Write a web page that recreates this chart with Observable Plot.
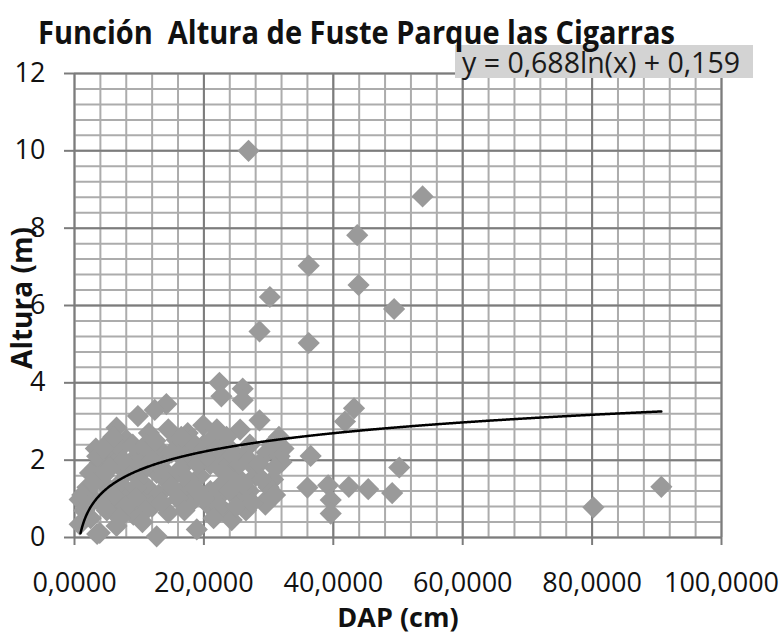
<!DOCTYPE html>
<html><head><meta charset="utf-8">
<script src="https://cdn.jsdelivr.net/npm/d3@7"></script>
<script src="https://cdn.jsdelivr.net/npm/@observablehq/plot@0.6"></script>
<style>
body{margin:0;background:#fff;}
#wrap{position:relative;width:784px;height:642px;font-family:"Open Sans",sans-serif;overflow:hidden;}
#chart{position:absolute;left:0;top:0;}
#eq{position:absolute;left:455px;top:45px;width:298px;height:33px;background:#d3d3d3;font-size:28.5px;line-height:35px;padding-left:7px;box-sizing:border-box;white-space:pre;color:#1a1a1a;}
#title{position:absolute;left:38px;top:10px;font-weight:700;font-size:32px;line-height:1.362;white-space:pre;color:#111;transform:scaleX(0.906);transform-origin:0 0;}
#ylab{position:absolute;left:21px;top:298px;font-weight:700;font-size:28px;line-height:1;white-space:pre;color:#111;transform:translate(-50%,-50%) rotate(-90deg);}
</style></head><body>
<div id="wrap"><div id="chart"></div><div id="eq">y = 0,688ln(x) + 0,159</div><div id="title">Función  Altura de Fuste Parque las Cigarras</div><div id="ylab">Altura (m)</div></div>
<script>
// DAP (cm) and Altura (m) of each tree
const dap = [
  26.9, 53.8, 43.7, 36.2, 43.9, 30.2, 49.4, 28.6, 36.2, 22.4, 22.7, 26.0, 26.0, 43.2, 41.8,
  50.2, 36.5, 36.0, 39.2, 42.4, 45.4, 49.1, 39.6, 39.6, 80.2, 90.7,
  14.2, 12.4, 9.8, 6.5, 19.9, 28.6, 25.6, 31.6, 27.1, 29.7, 31.7, 32.3, 32.0, 15.8, 8.0, 18.3,
  10.6, 14.2, 22.5, 3.9, 2.4, 27.6, 30.7, 23.0, 19.4, 15.8, 12.7, 8.0, 4.9, 11.6, 16.8, 10.1,
  6.5, 0.8, 0.8, 3.9, 9.1, 14.5, 12.7, 18.9, 20.9, 23.5, 24.3, 25.6, 29.8, 3.5,
  5.0, 6.0, 7.0, 9.0, 11.0, 13.0, 17.0, 20.0, 21.0, 24.0, 26.0, 28.0, 25.0, 21.0, 18.0, 16.0,
  13.0, 8.0, 5.0, 3.0, 2.0, 7.0, 10.0, 12.0, 27.0, 22.0, 24.0, 3.3, 5.5, 17.5, 21.5, 23.5,
  1.5, 2.5, 6.5, 4.5, 19.0, 26.5, 30.0, 1.2, 3.5, 11.5, 16.0, 9.5, 14.0, 29.5,
  4.5, 6.0, 7.5, 9.0, 10.0, 11.0, 12.0, 13.5, 15.0, 16.5, 18.0, 19.0, 20.5, 22.0, 23.0, 24.5,
  25.5, 27.0, 28.5, 29.0, 31.0, 26.0, 24.0, 22.5, 20.0, 17.5, 15.0, 13.5, 11.0, 9.5, 8.0, 6.0,
  4.0, 3.0, 5.5, 7.0, 2.0, 10.5, 17.0, 21.5, 25.0, 27.5, 30.5, 12.5, 14.5, 16.5, 22.0, 18.5, 31.0
];
const altura = [
  10.0, 8.82, 7.82, 7.03, 6.53, 6.22, 5.91, 5.33, 5.03, 4.0, 3.65, 3.85, 3.55, 3.34, 3.0,
  1.81, 2.11, 1.29, 1.35, 1.31, 1.25, 1.15, 0.97, 0.62, 0.78, 1.31,
  3.45, 3.3, 3.14, 2.84, 2.9, 3.03, 2.79, 2.6, 2.4, 2.2, 2.1, 2.3, 1.95, 2.53, 2.53, 2.2,
  2.2, 2.1, 2.0, 1.93, 1.67, 1.84, 1.5, 1.41, 1.59, 1.67, 1.67, 1.67, 1.33, 1.24, 1.24, 0.98,
  0.81, 0.98, 0.34, 0.12, 0.59, 0.64, 0.03, 0.21, 0.81, 0.64, 0.45, 0.98, 1.0, 0.09,
  2.1, 1.9, 2.3, 2.0, 1.8, 2.3, 2.0, 2.4, 1.9, 2.3, 2.1, 1.6, 1.6, 1.2, 0.9, 1.0,
  1.1, 1.1, 0.7, 1.0, 1.3, 1.4, 1.5, 0.8, 1.2, 1.0, 1.9, 2.3, 2.5, 2.7, 2.6, 2.6,
  0.7, 0.5, 0.3, 1.6, 1.2, 0.7, 1.3, 1.1, 2.1, 2.7, 2.3, 1.3, 1.5, 0.85,
  2.3, 2.6, 2.0, 2.4, 1.9, 2.4, 2.0, 1.8, 2.2, 1.8, 2.5, 1.9, 2.1, 2.3, 1.7, 2.1,
  1.9, 2.0, 1.9, 1.5, 1.8, 1.4, 1.2, 0.8, 1.0, 1.5, 1.3, 0.9, 0.7, 1.0, 0.8, 1.1,
  0.9, 1.4, 1.8, 0.5, 0.8, 0.4, 0.7, 0.5, 0.8, 0.9, 2.4, 2.5, 2.8, 2.6, 2.8, 1.3, 1.1
];
const xTicks = [0, 20, 40, 60, 80, 100];
const yTicks = [0, 2, 4, 6, 8, 10, 12];
const xMinor = d3.range(0, 100.001, 4);
const yMinor = d3.range(0, 30.5).map(i => +(i * 0.4).toFixed(1));
// logarithmic trend line shown in the chart: y = 0,688 ln(x) + 0,159
const coefA = 0.688, coefB = 0.159;
const trendStart = 0.93, trendEnd = 90.7;

const points = dap.map((d, i) => ({dap: d, altura: altura[i]}));
const trend = d3.range(trendStart, trendEnd, 0.1).concat([trendEnd]).map(x => ({x, y: coefA * Math.log(x) + coefB}));
const fmtX = d => d3.format(".4f")(d).replace(".", ",");

const chart = Plot.plot({
  width: 784, height: 642,
  marginLeft: 74, marginRight: 63, marginTop: 73, marginBottom: 105,
  x: {domain: [0, 100]},
  y: {domain: [0, 12]},
  style: {fontFamily: "'Open Sans', sans-serif", background: "transparent", color: "#000", overflow: "visible"},
  marks: [
    Plot.gridX(xMinor, {stroke: "#acacac", strokeOpacity: 1, strokeWidth: 2}),
    Plot.gridY(yMinor, {stroke: "#acacac", strokeOpacity: 1, strokeWidth: 2}),
    Plot.gridX(xTicks, {stroke: "#7c7c7c", strokeOpacity: 1, strokeWidth: 2}),
    Plot.gridY(yTicks, {stroke: "#7c7c7c", strokeOpacity: 1, strokeWidth: 2}),
    Plot.dot(points, {x: "dap", y: "altura", symbol: "diamond2", r: 10, fill: "#9a9a9a", stroke: "none"}),
    Plot.line(trend, {x: "x", y: "y", stroke: "#000", strokeWidth: 2.5}),
    Plot.axisX(xTicks, {tickSize: 8, tickPadding: 27, tickFormat: fmtX, fontSize: 27, stroke: "#7c7c7c", strokeWidth: 2, fill: "#111", label: null}),
    Plot.axisY(yTicks, {tickSize: 10, tickPadding: 19, fontSize: 27, stroke: "#7c7c7c", strokeWidth: 2, fill: "#111", label: null}),
    Plot.text(["DAP (cm)"], {frameAnchor: "bottom", lineAnchor: "middle", dy: 81, fontWeight: 700, fontSize: 27, fill: "#111"})
  ]
});
document.getElementById("chart").appendChild(chart);
</script>
</body></html>
